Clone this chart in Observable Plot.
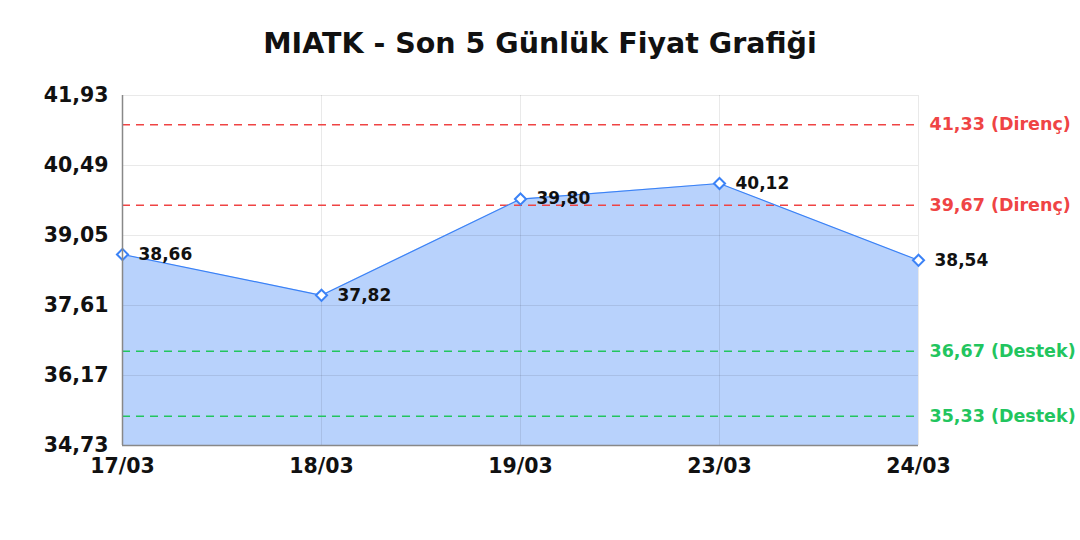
<!DOCTYPE html>
<html>
<head>
<meta charset="utf-8">
<script src="https://cdn.jsdelivr.net/npm/d3@7"></script>
<script src="https://cdn.jsdelivr.net/npm/@observablehq/plot@0.6"></script>
<style>
  body { margin: 0; background: #fff; font-family: "DejaVu Sans", sans-serif; }
  #title { height: 80px; line-height: 88px; text-align: center; font-size: 28.5px; font-weight: bold; color: #111; }
  #chart svg { display: block; }
</style>
</head>
<body>
<div id="title">MIATK - Son 5 Günlük Fiyat Grafiği</div>
<div id="chart"></div>
<script>
const dates = ["17/03", "18/03", "19/03", "23/03", "24/03"];
const prices = [38.66, 37.82, 39.80, 40.12, 38.54];
const yTicks = [34.73, 36.17, 37.61, 39.05, 40.49, 41.93];
const resistance = [41.33, 39.67];
const support = [36.67, 35.33];

const fmt = v => v.toFixed(2).replace(".", ",");
const data = dates.map((d, i) => ({date: d, price: prices[i]}));
const levels = [
  ...resistance.map(v => ({v, label: fmt(v) + " (Direnç)", color: "#ef4444"})),
  ...support.map(v => ({v, label: fmt(v) + " (Destek)", color: "#22c55e"}))
];
const yMin = yTicks[0], yMax = yTicks[yTicks.length - 1];

const chart = Plot.plot({
  width: 1080,
  height: 460,
  marginTop: 15,
  marginBottom: 95,
  marginLeft: 122,
  marginRight: 162,
  style: {fontFamily: "DejaVu Sans", color: "#111"},
  x: {type: "point", domain: dates, padding: 0, label: null},
  y: {domain: [yMin, yMax], label: null},
  marks: [
    Plot.areaY(data, {x: "date", y1: yMin, y2: "price", fill: "#3b82f6", fillOpacity: 0.36}),
    Plot.gridY(yTicks, {stroke: "#000", strokeOpacity: 0.085}),
    Plot.gridX(dates, {stroke: "#000", strokeOpacity: 0.085}),
    Plot.ruleY(levels, {y: "v", stroke: "color", strokeDasharray: "8,6", strokeWidth: 1.5}),
    Plot.text(levels, {y: "v", x: () => dates[dates.length - 1], text: "label", fill: "color", textAnchor: "start", dx: 11, fontSize: 17.5, fontWeight: "bold"}),
    Plot.lineY(data, {x: "date", y: "price", stroke: "#3b82f6", strokeWidth: 1.2}),
    Plot.dot(data, {x: "date", y: "price", symbol: "diamond2", r: 5, stroke: "#3b82f6", fill: "#fff", strokeWidth: 2}),
    Plot.text(data, {x: "date", y: "price", text: d => fmt(d.price), textAnchor: "start", dx: 16, fontSize: 17, fontWeight: "bold", fill: "#111"}),
    Plot.ruleX([dates[0]], {stroke: "#888", strokeWidth: 1.5}),
    Plot.ruleY([yMin], {stroke: "#888", strokeWidth: 1.5}),
    Plot.axisY({ticks: yTicks, tickFormat: fmt, tickSize: 0, tickPadding: 14, fontSize: 20.5, fontWeight: "bold", label: null}),
    Plot.axisX({tickSize: 0, tickPadding: 13, fontSize: 20.5, fontWeight: "bold", label: null})
  ]
});
document.getElementById("chart").appendChild(chart);
</script>
</body>
</html>
